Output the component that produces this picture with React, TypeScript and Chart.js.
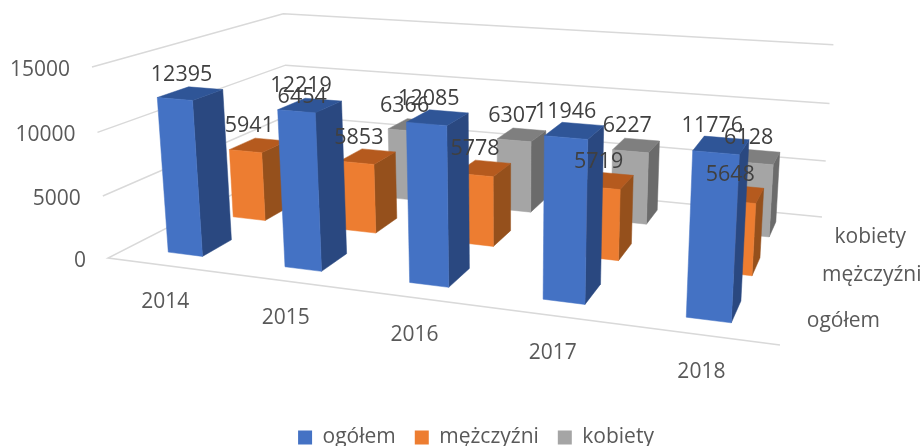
import React, { useEffect, useRef } from "react";
import { Chart, BarController, registerables } from "chart.js";

Chart.register(...registerables);

const years = ["2014", "2015", "2016", "2017", "2018"];
const seriesNames = ["ogółem", "mężczyźni", "kobiety"];
const ogolem = [12395, 12219, 12085, 11946, 11776];
const mezczyzni = [5941, 5853, 5778, 5719, 5648];
const kobiety = [6454, 6366, 6307, 6227, 6128];
const valueTicks = [0, 5000, 10000, 15000];

type Pt = [number, number];
const floorQuad: Pt[] = [[108, 258], [780, 345], [822, 217], [290, 165]];
const frontLeftTop: Pt = [92, 67];
const K = -0.0387;

function makeProjection(q: Pt[], top: Pt, k: number) {
  const [[x0, y0], [x1, y1], [x2, y2], [x3, y3]] = q;
  const dx1 = x1 - x2, dx2 = x3 - x2, sx = x0 - x1 + x2 - x3;
  const dy1 = y1 - y2, dy2 = y3 - y2, sy = y0 - y1 + y2 - y3;
  const den = dx1 * dy2 - dx2 * dy1;
  const g = (sx * dy2 - dx2 * sy) / den;
  const h = (dx1 * sy - sx * dy1) / den;
  const a = x1 - x0 + g * x1, b = x3 - x0 + h * x3;
  const d = y1 - y0 + g * y1, e = y3 - y0 + h * y3;
  const cx = top[0] * (1 + k) - x0;
  const cy = top[1] * (1 + k) - y0;
  return (u: number, v: number, t: number): Pt => {
    const w = g * u + h * v + 1 + k * t;
    return [(a * u + b * v + x0 + cx * t) / w, (d * u + e * v + y0 + cy * t) / w];
  };
}
const project = makeProjection(floorQuad, frontLeftTop, K);

const DEPTH_FILL = 0.44;
const shades = [
  { front: "#4472C4", top: "#2F5597", side: "#2A4880" },
  { front: "#ED7D31", top: "#B55A1E", side: "#95501C" },
  { front: "#A5A5A5", top: "#7F7F7F", side: "#6B6B6B" },
];

function poly(ctx: CanvasRenderingContext2D, pts: Pt[], color: string) {
  ctx.beginPath();
  pts.forEach((p, i) => (i ? ctx.lineTo(p[0], p[1]) : ctx.moveTo(p[0], p[1])));
  ctx.closePath();
  ctx.fillStyle = color;
  ctx.strokeStyle = color;
  ctx.lineWidth = 0.5;
  ctx.fill();
  ctx.stroke();
}

function barBox(chart: any, el: any, dsIndex: number) {
  const { x: xs, y: ys, z: zs } = chart.scales;
  const u0 = (el.x - el.width / 2 - xs.left) / xs.width;
  const u1 = (el.x + el.width / 2 - xs.left) / xs.width;
  const t = (el.base - el.y) / ys.height;
  const vc = (zs.getPixelForValue(dsIndex) - zs.left) / zs.width;
  const hd = DEPTH_FILL / seriesNames.length / 2;
  return { u0, u1, t, v0: vc - hd, v1: vc + hd, vc };
}

class Bar3DController extends BarController {
  static id = "bar3d";
  static defaults = { ...(BarController as any).defaults };
  static overrides = (BarController as any).overrides;
  draw() {
    const chart: any = this.chart;
    const ctx = chart.ctx;
    const meta: any = this.getMeta();
    const c = shades[this.index];
    meta.data.forEach((el: any) => {
      const b = barBox(chart, el, this.index);
      poly(ctx, [project(b.u1, b.v0, 0), project(b.u1, b.v1, 0), project(b.u1, b.v1, b.t), project(b.u1, b.v0, b.t)], c.side);
      poly(ctx, [project(b.u0, b.v0, b.t), project(b.u1, b.v0, b.t), project(b.u1, b.v1, b.t), project(b.u0, b.v1, b.t)], c.top);
      poly(ctx, [project(b.u0, b.v0, 0), project(b.u1, b.v0, 0), project(b.u1, b.v0, b.t), project(b.u0, b.v0, b.t)], c.front);
    });
  }
}
Chart.register(Bar3DController as any);

const FONT = "'Open Sans', sans-serif";

const wallsPlugin = {
  id: "walls",
  beforeDatasetsDraw(chart: any) {
    const ctx = chart.ctx;
    const ys = chart.scales.y;
    ctx.save();
    ctx.strokeStyle = "#D9D9D9";
    ctx.lineWidth = 1.5;
    valueTicks.forEach((val) => {
      const t = (ys.bottom - ys.getPixelForValue(val)) / ys.height;
      const a = project(0, 0, t), b = project(0, 1, t), c = project(1, 1, t);
      ctx.beginPath();
      if (val === 0) {
        const d = project(1, 0, t);
        ctx.moveTo(d[0], d[1]);
        ctx.lineTo(a[0], a[1]);
      } else {
        ctx.moveTo(a[0], a[1]);
      }
      ctx.lineTo(b[0], b[1]);
      ctx.lineTo(c[0], c[1]);
      ctx.stroke();
    });
    ctx.restore();
  },
};

const labelsPlugin = {
  id: "labels3d",
  afterDatasetsDraw(chart: any) {
    const ctx = chart.ctx;
    const { x: xs, y: ys, z: zs } = chart.scales;
    ctx.save();
    ctx.font = `21px ${FONT}`;
    ctx.fillStyle = "#595959";
    ctx.textBaseline = "middle";
    ctx.textAlign = "right";
    valueTicks.forEach((val) => {
      const t = (ys.bottom - ys.getPixelForValue(val)) / ys.height;
      const p = project(0, 0, t);
      ctx.fillText(String(val), p[0] - 22, p[1] + 3);
    });
    ctx.textAlign = "center";
    years.forEach((y, i) => {
      const u = (xs.getPixelForValue(i) - xs.left) / xs.width;
      const p = project(u, 0, 0);
      ctx.fillText(y, p[0], p[1] + 37);
    });
    ctx.textAlign = "left";
    seriesNames.forEach((s, j) => {
      const v = (zs.getPixelForValue(j) - zs.left) / zs.width;
      const p = project(1, v, 0);
      ctx.fillText(s, p[0] + 18, p[1] + 3);
    });
    ctx.textAlign = "center";
    ctx.fillStyle = "#404040";
    ctx.font = `21.5px ${FONT}`;
    chart.data.datasets.forEach((ds: any, j: number) => {
      chart.getDatasetMeta(j).data.forEach((el: any, i: number) => {
        const b = barBox(chart, el, j);
        const p = project((b.u0 + b.u1) / 2, b.vc, b.t);
        ctx.fillText(String(ds.data[i]), p[0] - 9, p[1] - 19);
      });
    });
    ctx.restore();
  },
};

export default function App() {
  const ref = useRef<HTMLCanvasElement>(null);
  useEffect(() => {
    const chart = new Chart(ref.current as HTMLCanvasElement, {
      type: "bar3d" as any,
      data: {
        labels: years,
        datasets: [
          { label: seriesNames[0], data: ogolem, backgroundColor: shades[0].front },
          { label: seriesNames[1], data: mezczyzni, backgroundColor: shades[1].front },
          { label: seriesNames[2], data: kobiety, backgroundColor: shades[2].front },
        ].map((d) => ({ ...d, clip: false, grouped: false, categoryPercentage: 1, barPercentage: 0.3 })) as any,
      },
      options: {
        responsive: false,
        animation: false,
        devicePixelRatio: 1,
        layout: { padding: { left: 30, bottom: -12 } },
        scales: {
          x: { type: "category", display: false, offset: true, grid: { display: false } },
          y: { type: "linear", display: false, min: 0, max: 15000, ticks: { stepSize: 5000 }, beginAtZero: true },
          z: { type: "category", axis: "x", display: false, offset: true, labels: seriesNames },
        } as any,
        plugins: {
          tooltip: { enabled: false },
          legend: {
            display: true,
            position: "bottom",
            labels: {
              boxWidth: 14,
              boxHeight: 14,
              padding: 19,
              color: "#595959",
              font: { family: "'Open Sans', sans-serif", size: 21 },
            },
          },
        },
      },
      plugins: [wallsPlugin, labelsPlugin],
    } as any);
    return () => chart.destroy();
  }, []);
  return (
    <div style={{ position: "absolute", left: 0, top: 0 }}>
      <canvas ref={ref} width={922} height={446} style={{ display: "block" }} />
    </div>
  );
}
